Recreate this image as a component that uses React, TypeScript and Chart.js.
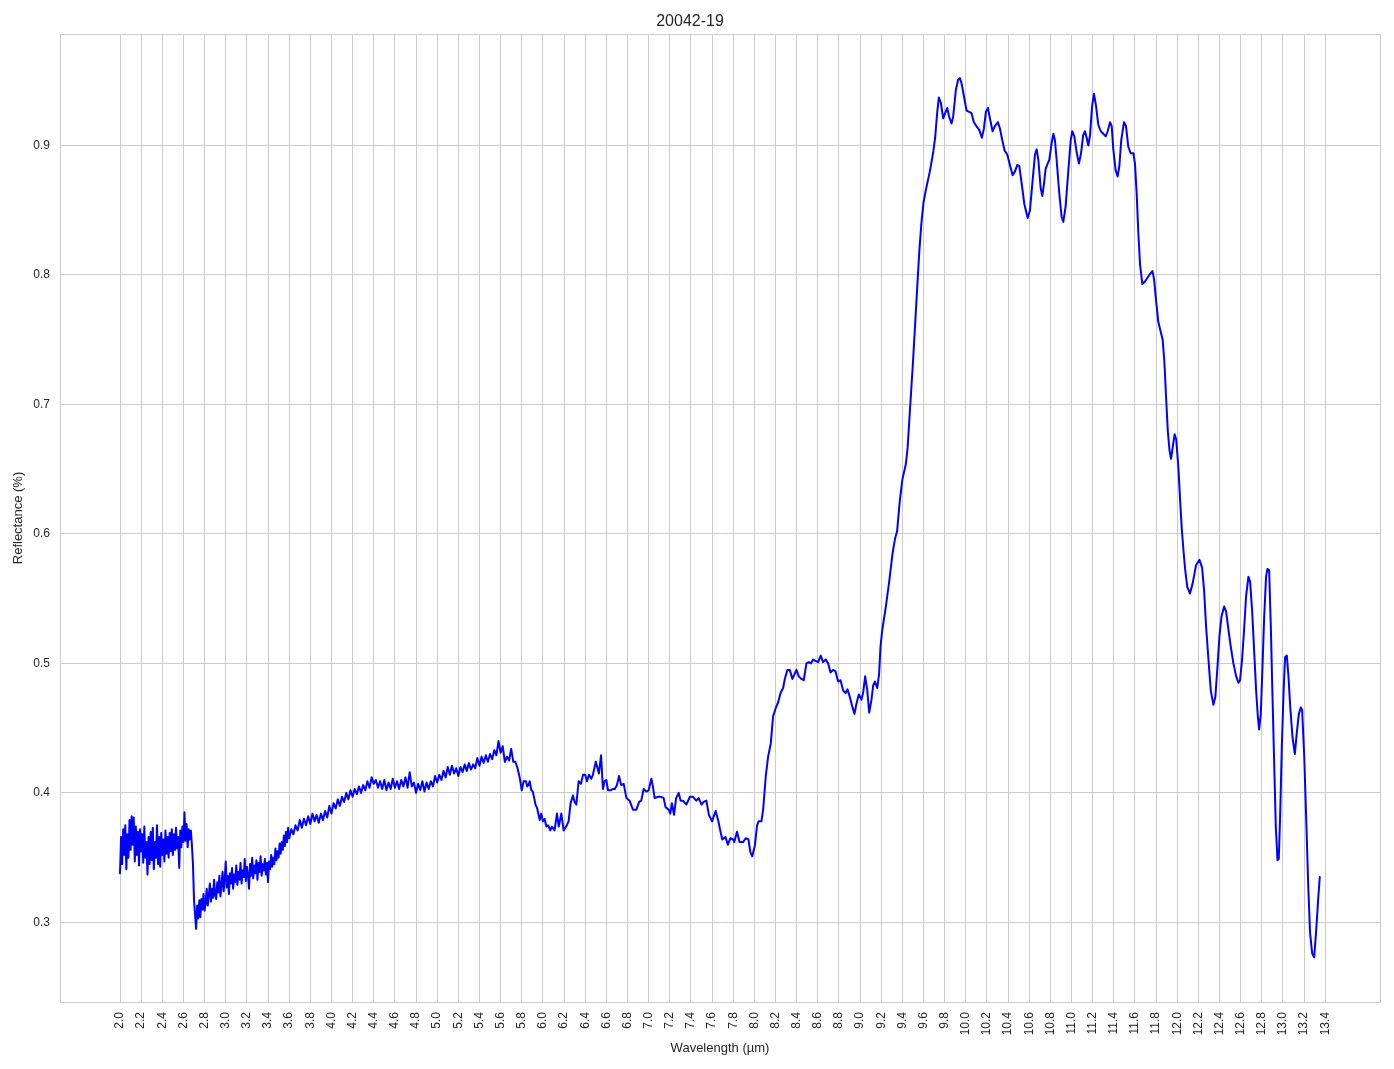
import React, { useEffect, useRef } from "react";
import { Chart, registerables } from "chart.js";

Chart.register(...registerables);

const chartTitle = "20042-19";
const xAxisTitle = "Wavelength (µm)";
const yAxisTitle = "Reflectance (%)";

const xTicks = [2.0, 2.2, 2.4, 2.6, 2.8, 3.0, 3.2, 3.4, 3.6, 3.8, 4.0, 4.2, 4.4, 4.6, 4.8, 5.0, 5.2, 5.4, 5.6, 5.8, 6.0, 6.2, 6.4, 6.6, 6.8, 7.0, 7.2, 7.4, 7.6, 7.8, 8.0, 8.2, 8.4, 8.6, 8.8, 9.0, 9.2, 9.4, 9.6, 9.8, 10.0, 10.2, 10.4, 10.6, 10.8, 11.0, 11.2, 11.4, 11.6, 11.8, 12.0, 12.2, 12.4, 12.6, 12.8, 13.0, 13.2, 13.4];
const yTicks = [0.3, 0.4, 0.5, 0.6, 0.7, 0.8, 0.9];

// 2.00 – 2.75 µm, sampled every 0.01 µm
const noisyStartWl = 2.0;
const noisyStep = 0.01;
const reflNoisy = [
  0.338, 0.366, 0.345, 0.372, 0.352, 0.375, 0.341, 0.368, 0.350, 0.379,
  0.356, 0.382, 0.360, 0.381, 0.347, 0.374, 0.352, 0.370, 0.344, 0.372,
  0.355, 0.368, 0.346, 0.374, 0.350, 0.362, 0.337, 0.366, 0.345, 0.370,
  0.348, 0.373, 0.341, 0.362, 0.350, 0.375, 0.345, 0.366, 0.343, 0.369,
  0.352, 0.364, 0.347, 0.371, 0.353, 0.366, 0.350, 0.369, 0.355, 0.372,
  0.352, 0.368, 0.356, 0.373, 0.357, 0.366, 0.342, 0.371, 0.358, 0.374,
  0.362, 0.385, 0.363, 0.376, 0.358, 0.372, 0.364, 0.371, 0.360, 0.345,
  0.318, 0.306, 0.295, 0.313, 0.303, 0.317,
];

// 2.76 – 3.60 µm, sampled every 0.01 µm
const lowStartWl = 2.76;
const lowStep = 0.01;
const reflLow = [
  0.304, 0.318, 0.310, 0.322, 0.309, 0.315, 0.326, 0.313, 0.321, 0.330,
  0.316, 0.326, 0.319, 0.333, 0.321, 0.318, 0.331, 0.323, 0.336, 0.320,
  0.329, 0.339, 0.324, 0.333, 0.347, 0.327, 0.336, 0.322, 0.338, 0.330,
  0.342, 0.326, 0.337, 0.331, 0.344, 0.329, 0.339, 0.333, 0.346, 0.330,
  0.340, 0.335, 0.349, 0.332, 0.343, 0.337, 0.326, 0.345, 0.336, 0.350,
  0.334, 0.344, 0.338, 0.348, 0.333, 0.346, 0.339, 0.351, 0.336, 0.345,
  0.340, 0.349, 0.337, 0.346, 0.331, 0.347, 0.341, 0.352, 0.343, 0.350,
  0.345, 0.357, 0.348, 0.355, 0.350, 0.361, 0.353, 0.362, 0.356, 0.367,
  0.359, 0.370, 0.362, 0.373, 0.365,
];

// 3.62 – 5.80 µm, sampled every 0.02 µm
const risingStartWl = 3.62;
const risingStep = 0.02;
const reflRising = [
  0.372, 0.368, 0.375, 0.371, 0.379, 0.373, 0.380,
  0.375, 0.382, 0.376, 0.384, 0.378, 0.383, 0.377, 0.384, 0.379, 0.386,
  0.381, 0.390, 0.384, 0.392, 0.388, 0.395, 0.390, 0.397, 0.393, 0.400,
  0.395, 0.402, 0.397, 0.403, 0.399, 0.405, 0.400, 0.406, 0.402, 0.409,
  0.404, 0.412, 0.407, 0.410, 0.404, 0.409, 0.403, 0.410, 0.402, 0.408,
  0.403, 0.411, 0.404, 0.409, 0.403, 0.410, 0.405, 0.412, 0.404, 0.416,
  0.405, 0.408, 0.400, 0.407, 0.402, 0.409, 0.401, 0.408, 0.403, 0.409,
  0.405, 0.413, 0.408, 0.414, 0.410, 0.417, 0.412, 0.420, 0.414, 0.421,
  0.415, 0.419, 0.413, 0.420, 0.416, 0.422, 0.417, 0.423, 0.418, 0.422,
  0.419, 0.427, 0.421, 0.428, 0.423, 0.429, 0.424, 0.430, 0.426, 0.433,
  0.429, 0.440, 0.431, 0.436, 0.424, 0.428, 0.425, 0.434, 0.424, 0.424,
  0.419, 0.412, 0.402,
];

// [wavelength, reflectance] 5.8 – 8.0 µm
const dipBand: [number, number][] = [
  [5.817, 0.409], [5.84, 0.409], [5.852, 0.405], [5.864, 0.406], [5.875, 0.409], [5.89, 0.402], [5.905, 0.401], [5.93, 0.391], [5.946, 0.388], [5.97, 0.379],
  [5.984, 0.384], [6.0, 0.378], [6.016, 0.380], [6.032, 0.374], [6.05, 0.375], [6.07, 0.371], [6.085, 0.374], [6.11, 0.371], [6.133, 0.384], [6.15, 0.374],
  [6.174, 0.384], [6.196, 0.371], [6.22, 0.374], [6.243, 0.378], [6.262, 0.392], [6.284, 0.398], [6.30, 0.393], [6.316, 0.391], [6.338, 0.409], [6.36, 0.407],
  [6.379, 0.414], [6.40, 0.414], [6.417, 0.409], [6.436, 0.414], [6.458, 0.411], [6.473, 0.414], [6.50, 0.424], [6.514, 0.420], [6.53, 0.415], [6.55, 0.429],
  [6.568, 0.403], [6.584, 0.409], [6.60, 0.410], [6.616, 0.402], [6.64, 0.402], [6.66, 0.403], [6.68, 0.403], [6.70, 0.406], [6.72, 0.413], [6.74, 0.406],
  [6.764, 0.407], [6.79, 0.396], [6.82, 0.394], [6.852, 0.387], [6.884, 0.387], [6.91, 0.393], [6.93, 0.394], [6.953, 0.403], [6.978, 0.401], [7.0, 0.402],
  [7.026, 0.411], [7.04, 0.405], [7.057, 0.396], [7.09, 0.397], [7.12, 0.397], [7.142, 0.396], [7.16, 0.389], [7.19, 0.387], [7.205, 0.384], [7.22, 0.392],
  [7.24, 0.383], [7.26, 0.396], [7.284, 0.400], [7.303, 0.394], [7.325, 0.394], [7.357, 0.391], [7.39, 0.397], [7.42, 0.397], [7.45, 0.394], [7.474, 0.396],
  [7.50, 0.391], [7.52, 0.393], [7.546, 0.394], [7.57, 0.383], [7.60, 0.378], [7.616, 0.382], [7.634, 0.386], [7.657, 0.379], [7.68, 0.370], [7.697, 0.364],
  [7.726, 0.366], [7.75, 0.360], [7.773, 0.365], [7.80, 0.364], [7.81, 0.362], [7.836, 0.370], [7.86, 0.362], [7.893, 0.362], [7.918, 0.365], [7.944, 0.364],
  [7.963, 0.354], [7.98, 0.351], [8.004, 0.359],
];

// 8.0 – 9.75 µm
const riseBand: [number, number][] = [
  [8.026, 0.375], [8.04, 0.378], [8.067, 0.378], [8.083, 0.387], [8.108, 0.413], [8.13, 0.428], [8.155, 0.438], [8.177, 0.459], [8.20, 0.465], [8.225, 0.470],
  [8.247, 0.477], [8.272, 0.481], [8.288, 0.488], [8.313, 0.495], [8.335, 0.495], [8.36, 0.488], [8.376, 0.491], [8.398, 0.495], [8.42, 0.490], [8.445, 0.488],
  [8.467, 0.487], [8.493, 0.500], [8.515, 0.501], [8.534, 0.500], [8.556, 0.503], [8.578, 0.502], [8.603, 0.501], [8.628, 0.506], [8.65, 0.501], [8.676, 0.503],
  [8.698, 0.500], [8.72, 0.493], [8.745, 0.495], [8.767, 0.494], [8.792, 0.486], [8.815, 0.487], [8.84, 0.479], [8.862, 0.477], [8.881, 0.480], [8.903, 0.474],
  [8.925, 0.467], [8.947, 0.461], [8.966, 0.469], [8.988, 0.476], [9.013, 0.472], [9.03, 0.478], [9.048, 0.490], [9.067, 0.480], [9.086, 0.462], [9.108, 0.472],
  [9.124, 0.483], [9.14, 0.486], [9.162, 0.481], [9.18, 0.492], [9.193, 0.513], [9.21, 0.526], [9.244, 0.544], [9.275, 0.563], [9.307, 0.585], [9.33, 0.596],
  [9.35, 0.602], [9.376, 0.626], [9.40, 0.642], [9.433, 0.654], [9.45, 0.667], [9.471, 0.695], [9.496, 0.727], [9.518, 0.758], [9.54, 0.790], [9.56, 0.818],
  [9.58, 0.840], [9.60, 0.856], [9.628, 0.868], [9.66, 0.880], [9.692, 0.895], [9.71, 0.906], [9.73, 0.926], [9.745, 0.937],
];

// 9.75 – 11.65 µm
const peakBand: [number, number][] = [
  [9.764, 0.933], [9.786, 0.921], [9.80, 0.924], [9.824, 0.929], [9.843, 0.922], [9.865, 0.917], [9.88, 0.922], [9.906, 0.943], [9.928, 0.951], [9.944, 0.952],
  [9.96, 0.948], [9.982, 0.938], [10.007, 0.927], [10.032, 0.926], [10.054, 0.925], [10.076, 0.918], [10.10, 0.915], [10.127, 0.912], [10.152, 0.906], [10.171, 0.913],
  [10.19, 0.926], [10.209, 0.929], [10.228, 0.921], [10.253, 0.911], [10.275, 0.915], [10.304, 0.918], [10.323, 0.913], [10.345, 0.904], [10.367, 0.896], [10.392, 0.893],
  [10.417, 0.885], [10.443, 0.877], [10.465, 0.880], [10.487, 0.885], [10.506, 0.884], [10.528, 0.871], [10.553, 0.855], [10.585, 0.844], [10.607, 0.850], [10.632, 0.873],
  [10.654, 0.893], [10.67, 0.897], [10.686, 0.889], [10.708, 0.867], [10.724, 0.861], [10.74, 0.871], [10.755, 0.882], [10.774, 0.886], [10.79, 0.889], [10.812, 0.902],
  [10.828, 0.909], [10.843, 0.904], [10.859, 0.889], [10.884, 0.863], [10.906, 0.845], [10.922, 0.841], [10.944, 0.853], [10.97, 0.881], [10.992, 0.904], [11.007, 0.911],
  [11.026, 0.907], [11.05, 0.894], [11.07, 0.886], [11.09, 0.894], [11.11, 0.908], [11.127, 0.911], [11.143, 0.906], [11.159, 0.900], [11.175, 0.908], [11.194, 0.930],
  [11.212, 0.940], [11.231, 0.931], [11.253, 0.916], [11.276, 0.911], [11.301, 0.909], [11.323, 0.907], [11.342, 0.911], [11.364, 0.918], [11.38, 0.915], [11.395, 0.897],
  [11.417, 0.881], [11.436, 0.876], [11.452, 0.884], [11.47, 0.904], [11.496, 0.918], [11.515, 0.915], [11.537, 0.899], [11.559, 0.894], [11.585, 0.894], [11.60, 0.886],
  [11.616, 0.863], [11.632, 0.832], [11.648, 0.808],
];

// 11.65 – 13.35 µm
const tailBand: [number, number][] = [
  [11.67, 0.793], [11.695, 0.795], [11.72, 0.798], [11.745, 0.801], [11.765, 0.803], [11.78, 0.797], [11.80, 0.780], [11.82, 0.764], [11.844, 0.756], [11.862, 0.750],
  [11.878, 0.733], [11.894, 0.706], [11.91, 0.680], [11.926, 0.665], [11.941, 0.658], [11.957, 0.667], [11.975, 0.677], [11.99, 0.673], [12.01, 0.652], [12.027, 0.626],
  [12.042, 0.605], [12.058, 0.588], [12.074, 0.573], [12.095, 0.559], [12.12, 0.554], [12.146, 0.562], [12.178, 0.576], [12.21, 0.580], [12.235, 0.574], [12.254, 0.556],
  [12.273, 0.528], [12.295, 0.503], [12.317, 0.479], [12.342, 0.468], [12.36, 0.474], [12.38, 0.497], [12.399, 0.521], [12.418, 0.536], [12.443, 0.544], [12.462, 0.540],
  [12.484, 0.526], [12.506, 0.513], [12.531, 0.500], [12.557, 0.490], [12.579, 0.485], [12.594, 0.487], [12.613, 0.503], [12.632, 0.526], [12.651, 0.552], [12.673, 0.567],
  [12.689, 0.563], [12.708, 0.541], [12.727, 0.510], [12.746, 0.479], [12.762, 0.459], [12.774, 0.449], [12.79, 0.461], [12.806, 0.497], [12.822, 0.536], [12.84, 0.567],
  [12.853, 0.573], [12.869, 0.572], [12.885, 0.528], [12.90, 0.477], [12.916, 0.425], [12.932, 0.374], [12.948, 0.348], [12.96, 0.349], [12.973, 0.382], [12.989, 0.436],
  [13.005, 0.477], [13.02, 0.505], [13.036, 0.506], [13.052, 0.490], [13.068, 0.467], [13.09, 0.443], [13.112, 0.430], [13.13, 0.446], [13.15, 0.461], [13.168, 0.466],
  [13.181, 0.464], [13.20, 0.430], [13.219, 0.382], [13.238, 0.330], [13.256, 0.292], [13.276, 0.276], [13.295, 0.273], [13.314, 0.294], [13.332, 0.317], [13.348, 0.335],
];

const FONT = "'Liberation Sans', Arial, Helvetica, sans-serif";
const TEXT = "#262626";
const GRID = "#cccccc";

export default function App() {
  const ref = useRef<HTMLCanvasElement>(null);

  useEffect(() => {
    const canvas = ref.current;
    if (!canvas) return;
    const pts: { x: number; y: number }[] = [];
    reflNoisy.forEach((y, i) => pts.push({ x: +(noisyStartWl + i * noisyStep).toFixed(3), y }));
    reflLow.forEach((y, i) => pts.push({ x: +(lowStartWl + i * lowStep).toFixed(3), y }));
    reflRising.forEach((y, i) => pts.push({ x: +(risingStartWl + i * risingStep).toFixed(3), y }));
    [dipBand, riseBand, peakBand, tailBand].forEach((seg) => seg.forEach(([x, y]) => pts.push({ x, y })));

    const frame = {
      id: "frame",
      beforeDatasetsDraw(chart: any) {
        const { ctx, chartArea } = chart;
        ctx.save();
        ctx.strokeStyle = GRID;
        ctx.lineWidth = 1;
        ctx.strokeRect(
          Math.round(chartArea.left) + 0.5,
          Math.round(chartArea.top) + 0.5,
          Math.round(chartArea.right - chartArea.left),
          Math.round(chartArea.bottom - chartArea.top)
        );
        ctx.restore();
      },
    };

    const chart = new Chart(canvas, {
      type: "line",
      data: {
        datasets: [
          {
            data: pts,
            borderColor: "#0000ff",
            borderWidth: 2,
            pointRadius: 0,
            tension: 0,
            fill: false,
            borderJoinStyle: "round",
            borderCapStyle: "round",
          },
        ],
      },
      options: {
        animation: false,
        responsive: false,
        devicePixelRatio: 1,
        layout: { padding: { left: 0, right: 14, top: 0, bottom: 0 } },
        plugins: {
          legend: { display: false },
          tooltip: { enabled: false },
          title: {
            display: true,
            text: chartTitle,
            color: TEXT,
            font: { family: FONT, size: 16, weight: "normal" },
            padding: { top: 12, bottom: 2.8 },
          },
        },
        scales: {
          x: {
            type: "linear",
            min: 1.4325,
            max: 13.9175,
            afterBuildTicks: (s: any) => {
              s.ticks = xTicks.map((v) => ({ value: v }));
            },
            afterFit: (s: any) => {
              s.height = 67;
            },
            ticks: {
              autoSkip: false,
              minRotation: 90,
              maxRotation: 90,
              padding: 10,
              color: TEXT,
              font: { family: FONT, size: 12 },
              callback: (v: any) => Number(v).toFixed(1),
            },
            grid: { color: GRID, lineWidth: 1, drawTicks: false },
            border: { color: GRID },
            title: {
              display: true,
              text: xAxisTitle,
              color: TEXT,
              font: { family: FONT, size: 13 },
              padding: { top: 0, bottom: 13 },
            },
          },
          y: {
            type: "linear",
            min: 0.2385,
            max: 0.9861,
            afterBuildTicks: (s: any) => {
              s.ticks = yTicks.map((v) => ({ value: v }));
            },
            afterFit: (s: any) => {
              s.width = 60;
            },
            ticks: {
              padding: 10,
              color: TEXT,
              font: { family: FONT, size: 12 },
              callback: (v: any) => Number(v).toFixed(1),
            },
            grid: { color: GRID, lineWidth: 1, drawTicks: false },
            border: { color: GRID },
            title: {
              display: true,
              text: yAxisTitle,
              color: TEXT,
              font: { family: FONT, size: 13 },
              padding: { top: 11, bottom: 0 },
            },
          },
        },
      },
      plugins: [frame],
    } as any);

    return () => chart.destroy();
  }, []);

  return (
    <div style={{ position: "absolute", left: 0, top: 0, width: 1394, height: 1069, background: "#ffffff" }}>
      <canvas ref={ref} width={1394} height={1069} style={{ display: "block", width: 1394, height: 1069 }} />
    </div>
  );
}
